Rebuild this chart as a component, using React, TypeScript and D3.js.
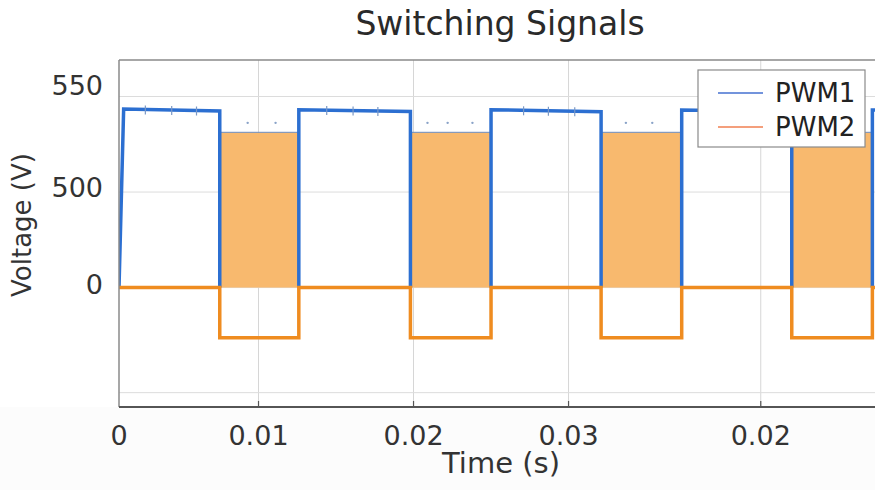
import React from "react";
import * as d3 from "d3";

// ---- data ----
const switchOnTimes = [0.0003, 0.0116, 0.024, 0.0363, 0.0486]; // PWM1 rising edges (s)
const switchOffTimes = [0.0065, 0.0188, 0.0311, 0.0434]; // PWM1 falling edges (s)
const pwm1HighStart = [935, 931, 931, 929, 929]; // V at start of each high period
const pwm1HighEnd = [924, 922, 920, 920]; // V at end of each high period
const pwm2FillLevel = 812; // V, top of shaded PWM2 pulse
const pwm2LowLevel = -262; // V, PWM2 line during pulse
const sampleTimes = [0.0017, 0.0034, 0.005, 0.0083, 0.0101, 0.0134, 0.0151, 0.0167, 0.0199, 0.0212, 0.0228, 0.0261, 0.0277, 0.0294, 0.0327, 0.0344];
const sampleDotLevel = 862;
const xTickValues = [0, 0.009, 0.019, 0.029, 0.0414];
const xTickLabels = ["0", "0.01", "0.02", "0.03", "0.02"];
const yLabelValues = [1055, 526, 14];
const yTickLabels = ["550", "500", "0"];
const yGridValues = [1000, 500, 0, -550];
const seriesNames = ["PWM1", "PWM2"];

const W = 875;
const H = 490;
const M = { left: 119, right: 884, top: 60, bottom: 407 };
const FONT = "'DejaVu Sans', sans-serif";

export default function App() {
  const x = d3.scaleLinear().domain([0, 0.04935]).range([M.left, M.right]);
  const y = d3.scaleLinear().domain([-625, 1191]).range([M.bottom, M.top]);
  const tEnd = x.domain()[1];

  // PWM1 pulses (one path per high period)
  const pulses: [number, number][][] = switchOnTimes.map((on, i) => {
    const start = i === 0 ? 0 : on;
    if (i < switchOffTimes.length) {
      const off = switchOffTimes[i];
      return [
        [start, 0],
        [on, pwm1HighStart[i]],
        [off, pwm1HighEnd[i]],
        [off, 0],
      ];
    }
    return [
      [start, 0],
      [on, pwm1HighStart[i]],
      [tEnd, pwm1HighStart[i] - 1],
    ];
  });
  // PWM2 points
  const p2: [number, number][] = [[0, 0]];
  switchOffTimes.forEach((off, i) => {
    const on = switchOnTimes[i + 1];
    p2.push([off, 0], [off, pwm2LowLevel], [on, pwm2LowLevel], [on, 0]);
  });
  p2.push([tEnd, 0]);

  const line = d3
    .line<[number, number]>()
    .x((d) => x(d[0]))
    .y((d) => y(d[1]));

  const periodOf = (t: number) =>
    switchOnTimes.findIndex((on, k) => t >= on && (k >= switchOffTimes.length || t < switchOffTimes[k]));
  const levelAt = (t: number) => {
    const i = periodOf(t);
    if (i < 0) return 0;
    const off = i < switchOffTimes.length ? switchOffTimes[i] : tEnd;
    const e = i < pwm1HighEnd.length ? pwm1HighEnd[i] : pwm1HighStart[i];
    return pwm1HighStart[i] + ((t - switchOnTimes[i]) / (off - switchOnTimes[i])) * (e - pwm1HighStart[i]);
  };

  return (
    <svg width={W} height={H} style={{ position: "absolute", left: 0, top: 0, background: "#fff" }}>
      <defs>
        <clipPath id="plot">
          <rect x={M.left} y={M.top} width={M.right - M.left} height={M.bottom - M.top} />
        </clipPath>
      </defs>
      <rect x={0} y={M.bottom} width={W} height={H - M.bottom} fill="#fcfcfc" />
      <rect x={M.left} y={M.top} width={M.right - M.left} height={M.bottom - M.top} fill="#fff" />
      {/* grid */}
      {xTickValues.slice(1).map((v, i) => (
        <line key={"gx" + i} x1={x(v)} x2={x(v)} y1={M.top} y2={M.bottom} stroke="#d6d6d6" strokeWidth={1} />
      ))}
      {yGridValues.map((v, i) => (
        <line key={"gy" + i} x1={M.left} x2={M.right} y1={y(v)} y2={y(v)} stroke="#dcdcdc" strokeWidth={1} />
      ))}
      <g clipPath="url(#plot)">
        {switchOffTimes.map((off, i) => (
          <rect
            key={"f" + i}
            x={x(off)}
            y={y(pwm2FillLevel)}
            width={x(switchOnTimes[i + 1]) - x(off)}
            height={y(0) - y(pwm2FillLevel)}
            fill="#f8b96e"
          />
        ))}
        {switchOffTimes.map((off, i) => (
          <line
            key={"ft" + i}
            x1={x(off)}
            x2={x(switchOnTimes[i + 1])}
            y1={y(pwm2FillLevel)}
            y2={y(pwm2FillLevel)}
            stroke="#6b8cbf"
            strokeWidth={1.3}
            opacity={0.8}
          />
        ))}
        {pulses.map((p, i) => (
          <path key={"p" + i} d={line(p) || ""} fill="none" stroke="#2c6fd1" strokeWidth={3.5} strokeLinejoin="miter" />
        ))}
        <path d={line(p2) || ""} fill="none" stroke="#ef8c20" strokeWidth={3.5} strokeLinejoin="miter" />
        {sampleTimes.map((t, i) =>
          periodOf(t) >= 0 ? (
            <line key={"s" + i} x1={x(t)} x2={x(t)} y1={y(levelAt(t)) - 4} y2={y(levelAt(t)) + 5} stroke="#7a98c6" strokeWidth={1.2} />
          ) : (
            <circle key={"s" + i} cx={x(t)} cy={y(sampleDotLevel)} r={1.2} fill="#8aa3c8" />
          )
        )}
      </g>
      {/* frame */}
      <line x1={M.left} x2={M.right} y1={M.top} y2={M.top} stroke="#8a8a8a" strokeWidth={1.5} />
      <line x1={M.left} x2={M.left} y1={M.top} y2={M.bottom} stroke="#8a8a8a" strokeWidth={1.5} />
      <line x1={M.left} x2={M.right} y1={M.bottom} y2={M.bottom} stroke="#555" strokeWidth={1.8} />
      {xTickValues.slice(1).map((v, i) => (
        <line key={"tx" + i} x1={x(v)} x2={x(v)} y1={M.bottom} y2={M.bottom - 6} stroke="#555" strokeWidth={1.2} />
      ))}
      {/* tick labels */}
      {xTickValues.map((v, i) => (
        <text key={"xl" + i} x={x(v)} y={445} textAnchor="middle" fontFamily={FONT} fontSize={27} fill="#333">
          {xTickLabels[i]}
        </text>
      ))}
      {yLabelValues.map((v, i) => (
        <text key={"yl" + i} x={103} y={y(v)} dominantBaseline="central" textAnchor="end" fontFamily={FONT} fontSize={27} fill="#333">
          {yTickLabels[i]}
        </text>
      ))}
      {/* titles */}
      <text x={500} y={35} textAnchor="middle" fontFamily={FONT} fontSize={33} fill="#2a2a2a">
        Switching Signals
      </text>
      <text x={501} y={473} textAnchor="middle" fontFamily={FONT} fontSize={29} fill="#333">
        Time (s)
      </text>
      <text transform="translate(31,225) rotate(-90)" textAnchor="middle" fontFamily={FONT} fontSize={26} fill="#333">
        Voltage (V)
      </text>
      {/* legend */}
      <g>
        <rect x={698} y={70} width={167} height={77} fill="#fff" stroke="#8a8a8a" strokeWidth={1.2} />
        {seriesNames.map((n, i) => (
          <g key={n}>
            <line x1={718} x2={763} y1={93 + i * 34} y2={93 + i * 34} stroke={i === 0 ? "#4570d0" : "#f07f50"} strokeWidth={1.6} />
            <text x={775} y={93 + i * 34} dominantBaseline="central" fontFamily={FONT} fontSize={26} fill="#222">
              {n}
            </text>
          </g>
        ))}
      </g>
    </svg>
  );
}
